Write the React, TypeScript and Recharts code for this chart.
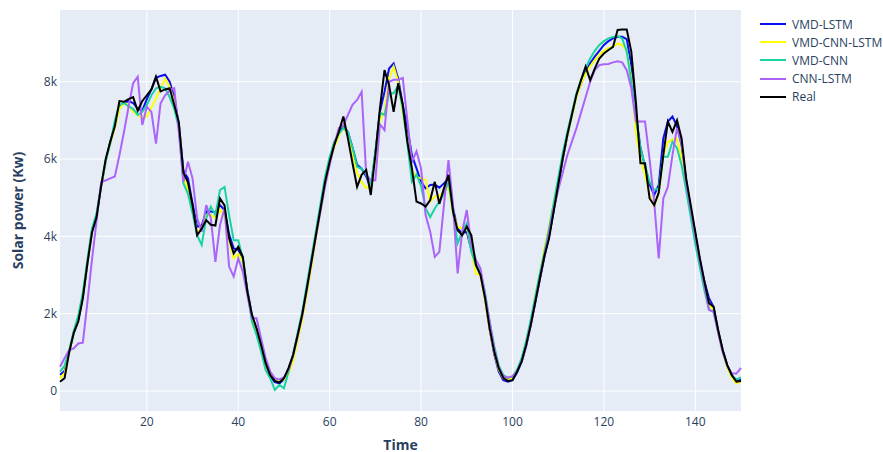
import React from 'react';
import { LineChart, Line, XAxis, YAxis, CartesianGrid } from 'recharts';

// time steps 1..150
const time = Array.from({ length: 150 }, (_, i) => i + 1);
const xTicks = [20, 40, 60, 80, 100, 120, 140];
const yTicks = [0, 2000, 4000, 6000, 8000];

const vmdLstm = [
  420, 520, 1000, 1500, 1850, 2450, 3300, 4150, 4550, 5300,
  5950, 6450, 6850, 7350, 7450, 7500, 7450, 7300, 7250, 7550,
  7800, 8100, 8150, 8180, 8000, 7600, 6900, 5700, 5500, 4850,
  4250, 4280, 4640, 4640, 4620, 4810, 4680, 4050, 3690, 3650,
  3400, 2600, 1950, 1600, 1150, 680, 380, 230, 200, 300,
  580, 920, 1450, 1980, 2650, 3340, 4030, 4720, 5400, 5950,
  6400, 6680, 6850, 6700, 6300, 5850, 5750, 5550, 5250, 6150,
  7220, 7740, 8340, 8470, 8080, 7400, 6800, 6100, 5760, 5410,
  5240, 5330, 5340, 5260, 5370, 5500, 4720, 4200, 4080, 4120,
  3650, 3260, 3050, 2400, 1600, 950, 500, 280, 240, 280,
  480, 760, 1190, 1710, 2300, 2900, 3480, 4000, 4650, 5320,
  6000, 6600, 7150, 7650, 7950, 8250, 8480, 8650, 8800, 8950,
  9050, 9120, 9160, 9160, 9100, 8430, 7140, 6300, 5800, 5350,
  5070, 5330, 6530, 6970, 7100, 6850, 6360, 5450, 4700, 4050,
  3380, 2830, 2400, 2180, 1550, 1050, 650, 380, 250, 300,
];

const vmdCnnLstm = [
  330, 460, 1000, 1500, 1900, 2500, 3300, 4150, 4550, 5300,
  5950, 6400, 6800, 7300, 7450, 7400, 7220, 7140, 7050, 7100,
  7330, 7570, 7830, 8080, 7870, 7480, 6900, 5550, 5200, 4700,
  4100, 4200, 4550, 4550, 4480, 4700, 4500, 3900, 3430, 3550,
  3350, 2500, 1900, 1550, 1100, 680, 420, 320, 280, 300,
  450, 780, 1300, 1850, 2500, 3200, 3950, 4650, 5350, 5900,
  6300, 6600, 6800, 6650, 6100, 5650, 5400, 5250, 5300, 6000,
  7000, 7220, 8080, 8390, 8000, 7200, 6500, 5700, 5540, 5500,
  5460, 4900, 5030, 5030, 5160, 5280, 4600, 4250, 4200, 4250,
  3650, 3040, 3000, 2350, 1600, 1000, 550, 330, 300, 330,
  520, 800, 1250, 1800, 2450, 3050, 3700, 4250, 4850, 5450,
  6050, 6600, 7100, 7600, 7950, 8200, 8400, 8550, 8700, 8800,
  8870, 8900, 8990, 8950, 8800, 8100, 6700, 6000, 5600, 5070,
  4770, 5100, 6100, 6450, 6500, 6530, 6020, 5300, 4600, 3950,
  3300, 2750, 2250, 2100, 1500, 1000, 600, 350, 200, 250,
];

const vmdCnn = [
  500, 650, 1050, 1550, 1950, 2550, 3400, 4200, 4600, 5300,
  5950, 6400, 7000, 7400, 7450, 7360, 7300, 7140, 7220, 7400,
  7650, 7830, 7870, 7830, 7600, 7300, 6800, 5370, 5100, 4600,
  4030, 3780, 4470, 4770, 4550, 5200, 5280, 4550, 3900, 3900,
  3430, 2570, 1790, 1450, 1020, 540, 330, 30, 160, 70,
  500, 950, 1500, 2050, 2750, 3450, 4150, 4850, 5550, 6050,
  6450, 6650, 6800, 6700, 6300, 5800, 5750, 5600, 5300, 6200,
  7200, 7140, 7700, 7700, 7900, 7300, 6400, 5410, 5600, 5300,
  4720, 4500, 4720, 4900, 5100, 5410, 4640, 3820, 4120, 4340,
  3600, 3260, 3090, 2550, 1790, 1170, 660, 410, 340, 370,
  550, 850, 1300, 1850, 2450, 3050, 3600, 4200, 4850, 5500,
  6150, 6700, 7200, 7700, 8050, 8350, 8600, 8800, 8950, 9050,
  9120, 9160, 9180, 9120, 8780, 8000, 7050, 6280, 5840, 5410,
  5200, 5240, 6060, 6060, 6450, 6280, 5840, 5200, 4500, 3800,
  3200, 2600, 2100, 2050, 1550, 1050, 650, 400, 300, 350,
];

const cnnLstm = [
  630, 850, 1060, 1100, 1230, 1250, 2300, 3400, 4400, 5400,
  5450, 5500, 5550, 6100, 6700, 7350, 7960, 8130, 6880, 7350,
  7220, 6400, 7440, 7650, 7780, 7830, 6700, 5410, 5930, 5500,
  4470, 4120, 4810, 4470, 3340, 4290, 4720, 3220, 2960, 3430,
  3090, 2480, 1880, 1880, 1360, 850, 500, 330, 300, 350,
  550, 900, 1400, 1950, 2600, 3300, 4000, 4650, 5300, 5840,
  6360, 6800, 6880, 7140, 7400, 7530, 7740, 5600, 5450, 5450,
  6900, 6750, 8000, 8050, 8050, 8100, 7000, 5930, 6200, 5760,
  4550, 4120, 3470, 3600, 4810, 5970, 4810, 3040, 4120, 4680,
  3780, 3390, 3170, 2480, 1800, 1100, 600, 380, 350, 380,
  500, 750, 1150, 1700, 2300, 2900, 3500, 4100, 4700, 5200,
  5650, 6100, 6450, 6800, 7200, 7600, 8000, 8300, 8430, 8450,
  8460, 8500, 8530, 8500, 8300, 7830, 6970, 6970, 6970, 6000,
  4900, 3430, 4980, 5280, 6100, 6800, 6400, 5400, 4700, 4000,
  3350, 2750, 2100, 2050, 1500, 1000, 650, 450, 450, 600,
];

const real = [
  240, 330, 1000, 1500, 1800, 2400, 3300, 4100, 4500, 5300,
  6000, 6450, 6850, 7500, 7480, 7550, 7600, 7250, 7500, 7650,
  7800, 8130, 7750, 7800, 7830, 7400, 6950, 5650, 5400, 4800,
  4030, 4200, 4420, 4300, 4280, 4980, 4800, 3950, 3560, 3730,
  3470, 2570, 1970, 1620, 1190, 720, 410, 260, 220, 330,
  590, 930, 1450, 1980, 2650, 3340, 4030, 4720, 5410, 5930,
  6360, 6700, 7100, 6530, 5890, 5280, 5590, 5720, 5070, 6100,
  7310, 8300, 7910, 7220, 7960, 7400, 6450, 5760, 4900, 4850,
  4770, 4940, 5410, 4840, 5240, 5590, 4640, 4160, 4030, 4250,
  4030, 3260, 3000, 2400, 1620, 1020, 590, 340, 260, 280,
  500, 760, 1190, 1710, 2310, 2910, 3500, 3950, 4640, 5330,
  6020, 6620, 7140, 7660, 8040, 8390, 8040, 8340, 8600, 8730,
  8820, 8900, 9340, 9350, 9350, 8780, 7480, 5890, 5890, 4980,
  4810, 5130, 6100, 6970, 6700, 7000, 6530, 5500, 4810, 4120,
  3430, 2830, 2270, 2180, 1580, 1060, 670, 410, 240, 260,
];

const seriesNames = ['VMD-LSTM', 'VMD-CNN-LSTM', 'VMD-CNN', 'CNN-LSTM', 'Real'];
const seriesColors = ['#0a0ff0', '#ffff00', '#19d3a0', '#ab63fa', '#000000'];
const seriesValues = [vmdLstm, vmdCnnLstm, vmdCnn, cnnLstm, real];

const data = time.map((t, i) => {
  const row: Record<string, number> = { time: t };
  seriesNames.forEach((name, s) => {
    row[name] = seriesValues[s][i];
  });
  return row;
});

const FONT = '"Open Sans", verdana, arial, sans-serif';
const TEXT = '#2a3f5f';

const fmtK = (v: number) => (v === 0 ? '0' : `${v / 1000}k`);

const LegendBox = () => (
  <div
    style={{
      position: 'absolute',
      left: 760,
      top: 15,
      fontFamily: FONT,
      fontSize: 12,
      color: TEXT,
    }}
  >
    {seriesNames.map((name, i) => (
      <div key={name} style={{ display: 'flex', alignItems: 'center', height: 18.2 }}>
        <div style={{ width: 26, height: 2, background: seriesColors[i] }} />
        <span style={{ marginLeft: 6, whiteSpace: 'nowrap' }}>{name}</span>
      </div>
    ))}
  </div>
);

export default function App() {
  return (
    <div style={{ position: 'absolute', left: 0, top: 0, width: 883, height: 452, background: '#fff' }}>
      <LineChart
        width={883}
        height={452}
        data={data}
        margin={{ top: 10, right: 142, bottom: 0, left: 0 }}
      >
        <CartesianGrid fill="#E5ECF6" stroke="#ffffff" strokeWidth={1} horizontalValues={yTicks} verticalValues={xTicks} />
        <XAxis
          dataKey="time"
          type="number"
          domain={[1, 150]}
          ticks={xTicks}
          height={41}
          axisLine={false}
          tickLine={false}
          tickSize={0}
          tickMargin={6}
          tick={{ fill: TEXT, fontSize: 12, fontFamily: FONT }}
          label={{
            value: 'Time',
            position: 'insideBottom',
            offset: 2.5,
            style: { fill: TEXT, fontSize: 14, fontWeight: 'bold', fontFamily: FONT },
          }}
        />
        <YAxis
          type="number"
          domain={[-517, 9855]}
          allowDataOverflow
          ticks={yTicks}
          width={60}
          axisLine={false}
          tickLine={false}
          tickSize={0}
          tickMargin={3}
          tickFormatter={fmtK}
          tick={{ fill: TEXT, fontSize: 12, fontFamily: FONT }}
          label={{
            value: 'Solar power (Kw)',
            angle: -90,
            position: 'insideLeft',
            offset: 18,
            style: { textAnchor: 'middle', fill: TEXT, fontSize: 14, fontWeight: 'bold', fontFamily: FONT },
          }}
        />
        {seriesNames.map((name, i) => (
          <Line
            key={name}
            type="linear"
            dataKey={name}
            stroke={seriesColors[i]}
            strokeWidth={2}
            dot={false}
            activeDot={false}
            isAnimationActive={false}
          />
        ))}
      </LineChart>
      <LegendBox />
    </div>
  );
}
